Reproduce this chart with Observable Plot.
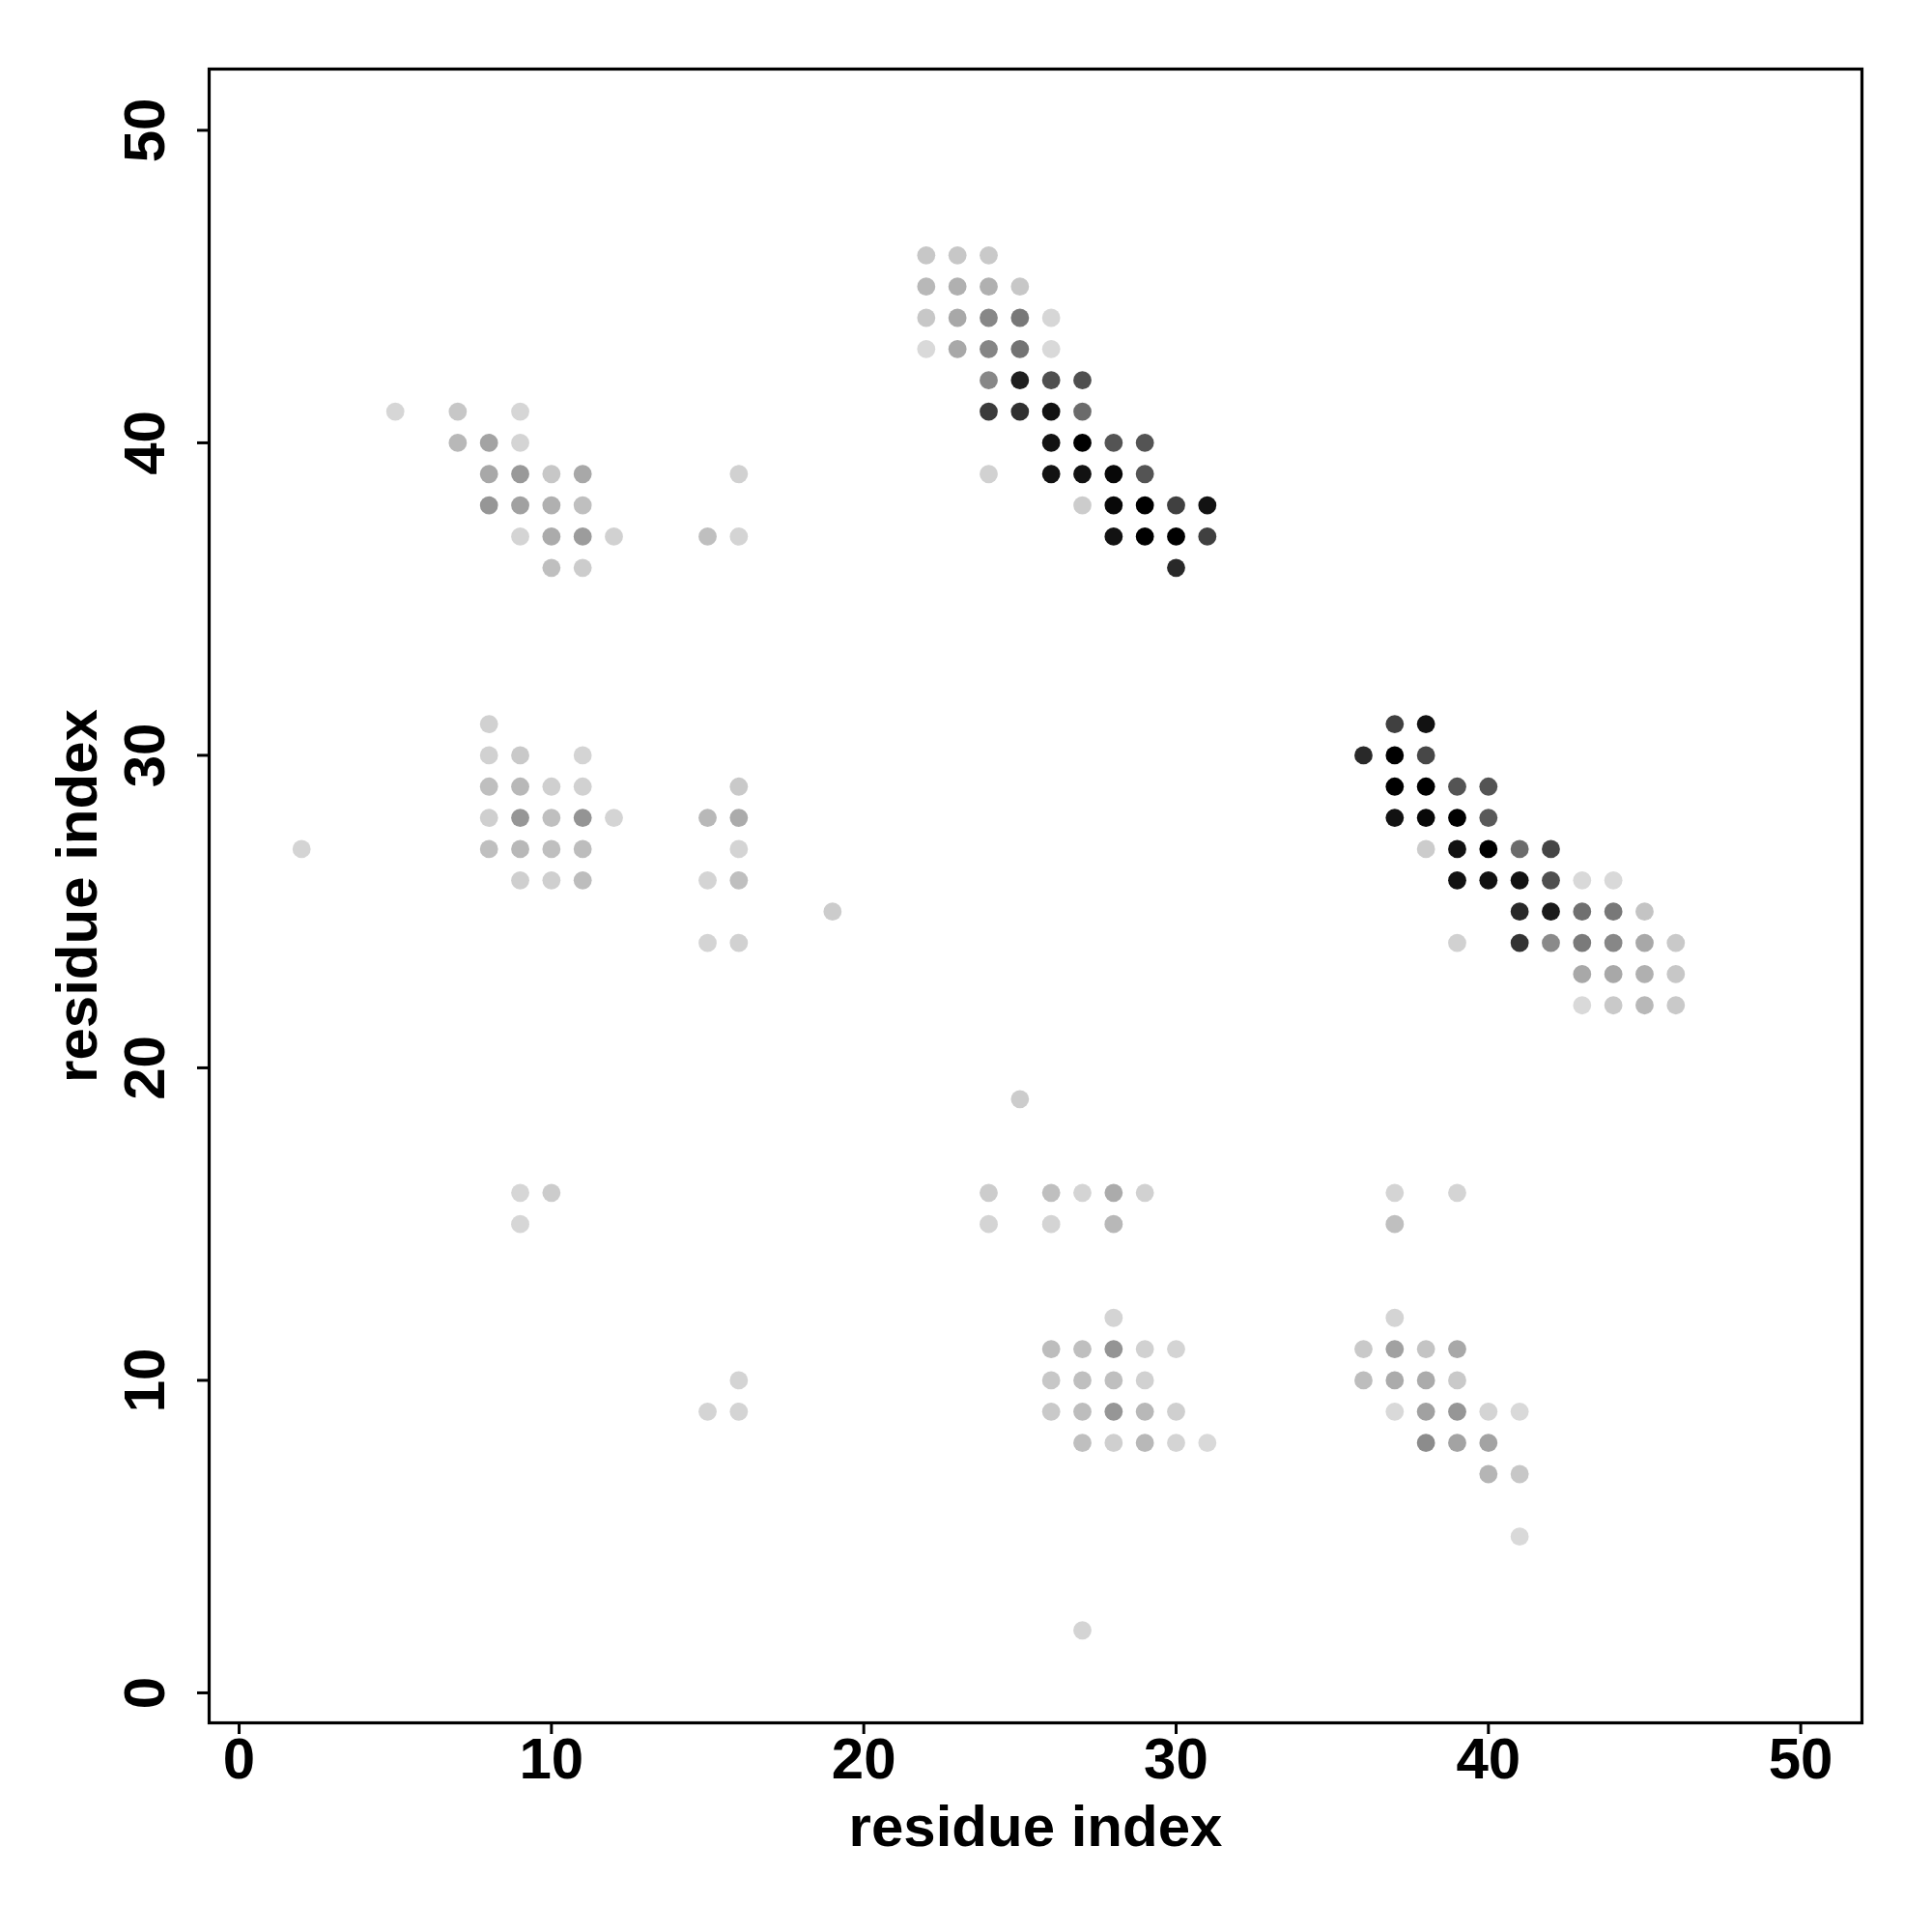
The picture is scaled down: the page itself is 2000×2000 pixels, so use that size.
<!DOCTYPE html>
<html><head><meta charset="utf-8">
<script src="https://cdn.jsdelivr.net/npm/d3@7"></script>
<script src="https://cdn.jsdelivr.net/npm/@observablehq/plot@0.6"></script>
<style>html,body{margin:0;padding:0;background:#fff} svg{display:block}</style>
</head><body><div id="chart"></div>
<script>
// Tick labels
const xTicks = [0, 10, 20, 30, 40, 50];
const yTicks = [0, 10, 20, 30, 40, 50];
const axisTitle = "residue index";

// Contacts: [residue i, residue j, contact frequency 0..1]
const clusterUpperLeft = [
  [5,41,.16],[7,41,.22],[9,41,.16],
  [7,40,.28],[8,40,.36],[9,40,.17],
  [8,39,.34],[9,39,.40],[10,39,.22],[11,39,.34],[16,39,.18],
  [8,38,.41],[9,38,.37],[10,38,.31],[11,38,.25],
  [9,37,.17],[10,37,.33],[11,37,.39],[12,37,.18],[15,37,.25],[16,37,.17],
  [10,36,.25],[11,36,.20]
];
const clusterTop = [
  [22,46,.22],[23,46,.22],[24,46,.21],
  [22,45,.28],[23,45,.31],[24,45,.31],[25,45,.22],
  [22,44,.22],[23,44,.34],[24,44,.47],[25,44,.53],[26,44,.16],
  [22,43,.15],[23,43,.34],[24,43,.48],[25,43,.55],[26,43,.15],
  [24,42,.47],[25,42,.88],[26,42,.69],[27,42,.69],
  [24,41,.77],[25,41,.81],[26,41,.93],[27,41,.58],
  [26,40,.93],[27,40,1.0],[28,40,.67],[29,40,.67],
  [24,39,.18],[26,39,.93],[27,39,.93],[28,39,.97],[29,39,.67],
  [27,38,.20],[28,38,.97],[29,38,1.0],[30,38,.75],[31,38,.93],
  [28,37,.93],[29,37,1.0],[30,37,1.0],[31,37,.75],
  [30,36,.84]
];
const clusterRight = [
  [37,31,.75],[38,31,.93],
  [36,30,.84],[37,30,1.0],[38,30,.72],
  [37,29,1.0],[38,29,1.0],[39,29,.67],[40,29,.67],
  [37,28,.93],[38,28,.97],[39,28,1.0],[40,28,.65],
  [38,27,.20],[39,27,.93],[40,27,1.0],[41,27,.58],[42,27,.73],
  [39,26,.93],[40,26,.93],[41,26,.93],[42,26,.69],[43,26,.15],[44,26,.15],
  [41,25,.84],[42,25,.90],[43,25,.56],[44,25,.53],[45,25,.23],
  [39,24,.18],[41,24,.80],[42,24,.46],[43,24,.52],[44,24,.47],[45,24,.34],[46,24,.21],
  [43,23,.34],[44,23,.34],[45,23,.31],[46,23,.22],
  [43,22,.15],[44,22,.21],[45,22,.28],[46,22,.21]
];
const clusterMiddleLeft = [
  [8,31,.18],
  [8,30,.18],[9,30,.21],[11,30,.17],
  [8,29,.25],[9,29,.28],[10,29,.19],[11,29,.18],[16,29,.21],
  [8,28,.19],[9,28,.41],[10,28,.25],[11,28,.42],[12,28,.17],[15,28,.28],[16,28,.33],
  [2,27,.17],[8,27,.25],[9,27,.28],[10,27,.25],[11,27,.26],[16,27,.17],
  [9,26,.19],[10,26,.19],[11,26,.26],[15,26,.17],[16,26,.25],
  [19,25,.20],
  [15,24,.17],[16,24,.18]
];
const clusterLower = [
  [25,19,.20],
  [9,16,.16],[10,16,.20],[24,16,.20],[26,16,.25],[27,16,.17],[28,16,.33],[29,16,.18],[37,16,.17],[39,16,.17],
  [9,15,.16],[24,15,.17],[26,15,.17],[28,15,.28],[37,15,.25]
];
const clusterBottom = [
  [28,12,.17],[37,12,.17],
  [26,11,.26],[27,11,.25],[28,11,.42],[29,11,.18],[30,11,.17],[36,11,.21],[37,11,.37],[38,11,.23],[39,11,.34],
  [16,10,.17],[26,10,.22],[27,10,.25],[28,10,.25],[29,10,.18],[36,10,.26],[37,10,.33],[38,10,.33],[39,10,.21],
  [15,9,.17],[16,9,.17],[26,9,.21],[27,9,.26],[28,9,.41],[29,9,.28],[30,9,.19],[37,9,.15],[38,9,.37],[39,9,.41],[40,9,.17],[41,9,.15],
  [27,8,.25],[28,8,.19],[29,8,.28],[30,8,.17],[31,8,.15],[38,8,.45],[39,8,.36],[40,8,.36],
  [40,7,.29],[41,7,.22],
  [41,5,.15],
  [27,2,.17]
];

const data = [...clusterUpperLeft, ...clusterTop, ...clusterRight, ...clusterMiddleLeft, ...clusterLower, ...clusterBottom]
  .map(([i, j, f]) => ({i, j, f}));

const font = "'Liberation Sans', Arial, Helvetica, sans-serif";

const chart = Plot.plot({
  width: 2000,
  height: 2000,
  marginLeft: 216,
  marginRight: 73,
  marginTop: 71,
  marginBottom: 217,
  style: {fontFamily: font, fontWeight: "bold", fontSize: "60px", color: "#000", background: "#fff"},
  x: {domain: [-0.96, 51.96]},
  y: {domain: [-0.96, 51.96]},
  color: {type: "linear", domain: [0, 1], range: ["#ffffff", "#000000"]},
  marks: [
    Plot.dot(data, {x: "i", y: "j", r: 9.4, fill: "f"}),
    Plot.frame({stroke: "#000", strokeWidth: 3.2}),
    Plot.axisX({ticks: xTicks, tickSize: 12, tickPadding: 3, strokeWidth: 3,
      label: axisTitle, labelAnchor: "center", labelOffset: 127, labelArrow: "none",
      fontSize: 60, fontWeight: "bold", fontFamily: font}),
    Plot.axisY({ticks: yTicks, tickSize: 12, tickRotate: -90, tickPadding: 35, strokeWidth: 3,
      label: axisTitle, labelAnchor: "center", labelOffset: 159, labelArrow: "none",
      fontSize: 60, fontWeight: "bold", fontFamily: font})
  ]
});
document.getElementById("chart").appendChild(chart);
</script>
</body></html>
